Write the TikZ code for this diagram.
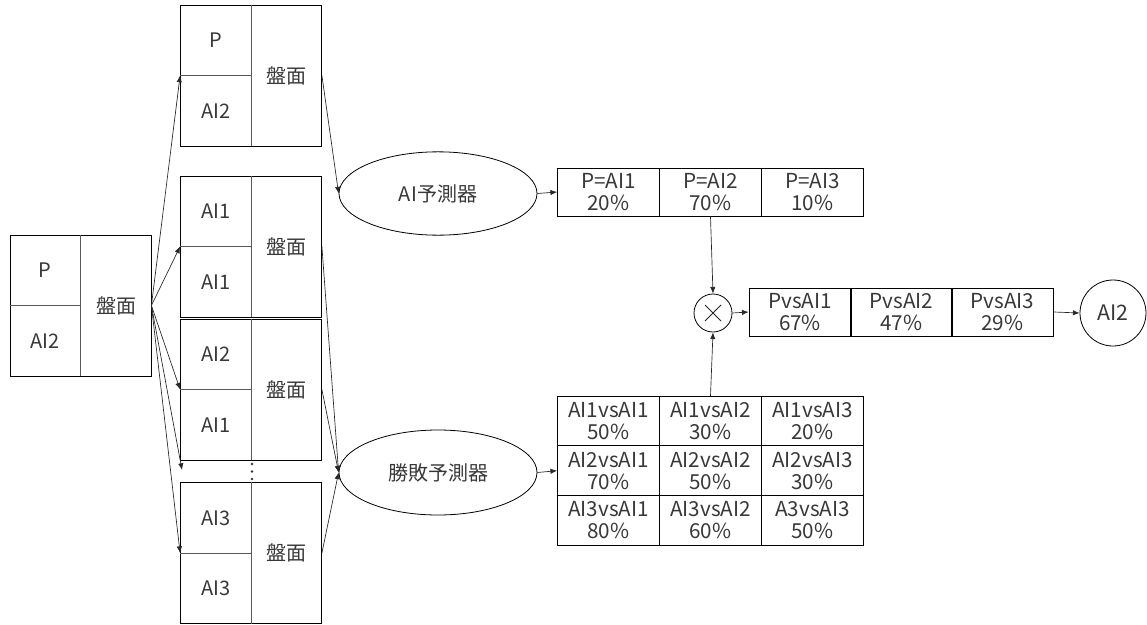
\documentclass[tikz,border=0pt]{standalone}
\usepackage{fontspec}
\setmainfont{Noto Sans CJK JP}
\usetikzlibrary{arrows.meta,shapes.geometric}
\tikzset{
  every node/.style={font=\fontsize{15}{16.5}\selectfont, text=black!78},
  board/.style={draw, minimum width=105.75pt, minimum height=105.75pt, inner sep=0pt, line width=0.6pt},
  divider/.style={draw=black!65, line width=0.6pt},
  lbl/.style={inner sep=0pt},
  pred/.style={draw, ellipse, minimum width=148.5pt, minimum height=62.5pt, inner sep=0pt, line width=0.6pt},
  cell/.style={draw, minimum width=76.5pt, minimum height=36pt, inner sep=0pt, align=center, line width=0.6pt, font=\fontsize{15.5}{16.5}\selectfont},
  cellb/.style={cell, minimum height=37.25pt},
  arr/.style={-{Latex[length=5pt,width=4pt]}, line width=0.5pt, black!85},
  conn/.style={line width=0.5pt, black!85}
}
\newcommand\myboard[5]{%
  \node[board] (#1) at (#2,#3) {};
  \draw[divider] ([xshift=53.25pt]#1.north west) -- ([xshift=53.25pt]#1.south west);
  \draw[divider] (#1.west) -- ([xshift=53.25pt]#1.west);
  \node[lbl] (#1-t) at ([xshift=26.6pt,yshift=26.4pt]#1.west) {#4};
  \node[lbl] (#1-b) at ([xshift=26.6pt,yshift=-26.4pt]#1.west) {#5};
  \node[lbl] (#1-r) at ([xshift=-26.4pt]#1.east) {盤面};
}
\begin{document}
\begin{tikzpicture}[x=0.75pt,y=-0.75pt]
\useasboundingbox (0,0) rectangle (1147,625);
% boards
\myboard{L}{80.5}{305.5}{P}{AI2}
\myboard{B1}{251}{75.5}{P}{AI2}
\myboard{B2}{251}{246.5}{AI1}{AI1}
\myboard{B3}{251}{389.5}{AI2}{AI1}
\myboard{B4}{251}{553}{AI3}{AI3}
% vertical dots
\foreach \yy in {464,471.5,479} \fill[black!80] (252,\yy) circle (1.3);
\coordinate (D) at (182,470);
% predictors
\node[pred] (E1) at (438,193.5) {AI予測器};
\node[pred, minimum height=63.75pt] (E2) at (438,472.5) {勝敗予測器};
% table 1
\node[cell] (T11) at (608.5,192) {P=AI1\\20\%};
\node[cell] (T12) at (710.5,192) {P=AI2\\70\%};
\node[cell] (T13) at (812.5,192) {P=AI3\\10\%};
% table 2
\node[cellb] (U11) at (608.5,421) {AI1vsAI1\\50\%};
\node[cellb] (U12) at (710.5,421) {AI1vsAI2\\30\%};
\node[cellb] (U13) at (812.5,421) {AI1vsAI3\\20\%};
\node[cellb] (U21) at (608.5,470.7) {AI2vsAI1\\70\%};
\node[cellb] (U22) at (710.5,470.7) {AI2vsAI2\\50\%};
\node[cellb] (U23) at (812.5,470.7) {AI2vsAI3\\30\%};
\node[cellb] (U31) at (608.5,520.4) {AI3vsAI1\\80\%};
\node[cellb] (U32) at (710.5,520.4) {AI3vsAI2\\60\%};
\node[cellb] (U33) at (812.5,520.4) {A3vsAI3\\50\%};
% multiply
\node[draw, circle, minimum size=28.5pt, inner sep=0pt, line width=0.6pt] (X) at (713,313) {};
\draw[line width=0.6pt, black!85] (X.center) ++(-8,-8) -- ++(16,16);
\draw[line width=0.6pt, black!85] (X.center) ++(-8,8) -- ++(16,-16);
% result table
\node[cell] (P1) at (800,312) {PvsAI1\\67\%};
\node[cell] (P2) at (901.5,312) {PvsAI2\\47\%};
\node[cell] (P3) at (1002.5,312) {PvsAI3\\29\%};
\node[draw, circle, minimum size=49.5pt, inner sep=0pt, line width=0.6pt, font=\fontsize{16}{18}\selectfont] (R) at (1113,313) {AI2};
% connectors
\draw[arr] (L.east) -- (B1.west);
\draw[arr] (L.east) -- (B2.west);
\draw[arr] (L.east) -- (B3.west);
\draw[arr] (L.east) -- (D);
\draw[arr] (L.east) -- (B4.west);
\draw[arr] (B1.east) -- (E1.west);
\draw[arr] (B2.east) -- (E2.west);
\draw[arr] (B3.east) -- (E2.west);
\draw[arr] (B4.east) -- (E2.west);
\draw[arr] (E1.east) -- (T11.west);
\draw[arr] (E2.east) -- (U21.west);
\draw[arr] (T12.south) -- (X.north);
\draw[arr] (U12.north) -- (X.south);
\draw[arr] (X.east) -- (P1.west);
\draw[arr] (P3.east) -- (R.west);
\end{tikzpicture}
\end{document}
